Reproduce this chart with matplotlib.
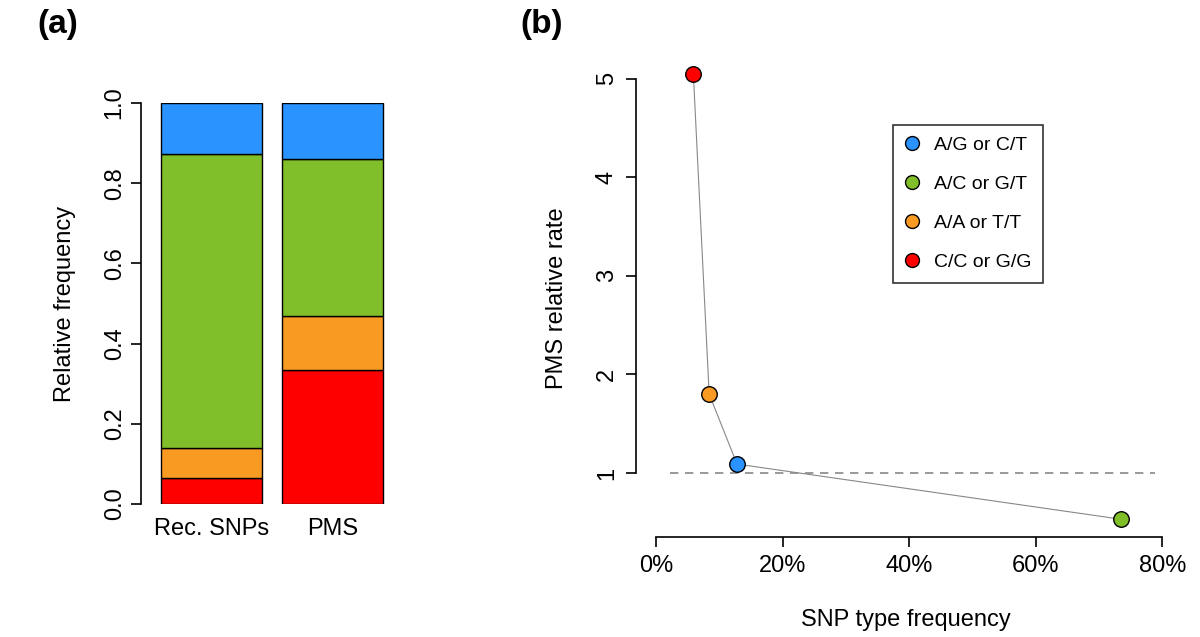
import matplotlib.pyplot as plt
import numpy as np

plt.rcParams['font.family'] = ['Liberation Sans', 'DejaVu Sans']

# stacked relative frequencies (bottom to top)
groups = ['Rec. SNPs', 'PMS']
snp_types = ['C/C or G/G', 'A/A or T/T', 'A/C or G/T', 'A/G or C/T']
rec_snps = [0.066, 0.074, 0.734, 0.126]
pms = [0.333, 0.137, 0.391, 0.139]

type_colors = {
    'C/C or G/G': '#FF0000',
    'A/A or T/T': '#F99A22',
    'A/C or G/T': '#80BE2A',
    'A/G or C/T': '#2A93FF',
}

# panel (b): SNP type frequency (%) vs PMS relative rate
point_types = ['C/C or G/G', 'A/A or T/T', 'A/G or C/T', 'A/C or G/T']
freq_pct = [5.9, 8.4, 12.8, 73.5]
rel_rate = [5.05, 1.80, 1.09, 0.53]
legend_types = ['A/G or C/T', 'A/C or G/T', 'A/A or T/T', 'C/C or G/G']

fig = plt.figure(figsize=(12, 6.37), dpi=100)

# ---- panel (a)
ax1 = fig.add_axes([141 / 1200, (637 - 504) / 637, 262 / 1200, 401 / 637])
xpos = [0.7, 1.9]
bottoms = np.zeros(2)
for i, t in enumerate(snp_types):
    vals = np.array([rec_snps[i], pms[i]])
    ax1.bar(xpos, vals, width=1.0, bottom=bottoms, color=type_colors[t],
            edgecolor='black', linewidth=1.0)
    bottoms += vals
ax1.set_xlim(0, 2.6)
ax1.set_ylim(0, 1)
for s in ['top', 'right', 'bottom']:
    ax1.spines[s].set_visible(False)
ax1.spines['left'].set_linewidth(1.2)
ax1.set_yticks([0, 0.2, 0.4, 0.6, 0.8, 1.0])
ax1.set_yticklabels(['0.0', '0.2', '0.4', '0.6', '0.8', '1.0'], rotation=90,
                    va='center', fontsize=17)
ax1.tick_params(axis='y', length=7, width=1.2, pad=4)
ax1.set_xticks(xpos)
ax1.set_xticklabels(groups, fontsize=17)
ax1.tick_params(axis='x', length=0, pad=10)
ax1.set_ylabel('Relative frequency', fontsize=17, labelpad=20)

# ---- panel (b)
ax2 = fig.add_axes([636 / 1200, (637 - 537) / 637, 539 / 1200, 478 / 637])
ax2.plot(freq_pct, rel_rate, color='#888888', linewidth=0.8, zorder=1)
ax2.axhline(1, xmin=0.063, xmax=0.963, color='#888888', linestyle=(0, (5, 4)),
            linewidth=1.2, zorder=0)
for i, t in enumerate(point_types):
    ax2.scatter(freq_pct[i], rel_rate[i], s=125, color=type_colors[t],
                edgecolor='black', linewidth=1.0, zorder=3)
ax2.set_xlim(-3.16, 82)
ax2.set_ylim(0.35, 5.2)
for s in ['top', 'right']:
    ax2.spines[s].set_visible(False)
ax2.spines['left'].set_bounds(1, 5)
ax2.spines['bottom'].set_bounds(0, 80)
ax2.spines['left'].set_linewidth(1.2)
ax2.spines['bottom'].set_linewidth(1.2)
ax2.set_yticks([1, 2, 3, 4, 5])
ax2.set_yticklabels(['1', '2', '3', '4', '5'], rotation=90, va='center', fontsize=17)
ax2.set_xticks([0, 20, 40, 60, 80])
ax2.set_xticklabels(['0%', '20%', '40%', '60%', '80%'], fontsize=17)
ax2.tick_params(length=7, width=1.2, pad=6)
ax2.set_xlabel('SNP type frequency', fontsize=17, labelpad=23)
ax2.set_ylabel('PMS relative rate', fontsize=17, labelpad=20)

handles = [plt.Line2D([], [], marker='o', linestyle='none', markersize=10,
                      markerfacecolor=type_colors[t], markeredgecolor='black',
                      markeredgewidth=1.0) for t in legend_types]
leg = ax2.legend(handles, legend_types, loc='upper left',
                 bbox_to_anchor=(257 / 539, 1 - 66 / 478), borderaxespad=0,
                 fontsize=14, frameon=True, fancybox=False, edgecolor='black',
                 labelspacing=1.1, handletextpad=0.7, borderpad=0.6,
                 handlelength=0.8)
leg.get_frame().set_linewidth(1.2)

fig.text(37 / 1200, 1 - 25 / 637, '(a)', fontsize=24, fontweight='bold', va='center')
fig.text(520 / 1200, 1 - 25 / 637, '(b)', fontsize=24, fontweight='bold', va='center')

fig.savefig('out.png', dpi=100)
